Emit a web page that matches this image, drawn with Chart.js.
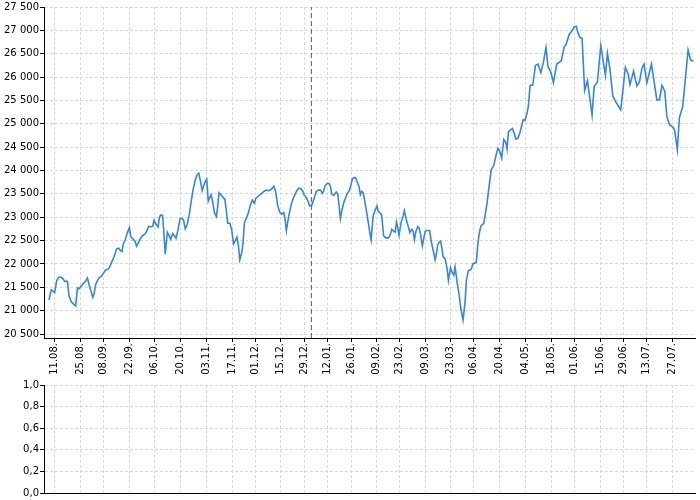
<!DOCTYPE html>
<html>
<head>
<meta charset="utf-8">
<script src="https://cdn.jsdelivr.net/npm/chart.js@4.4.1/dist/chart.umd.min.js"></script>
<style>
  html, body { margin: 0; padding: 0; background: #fff; }
  #wrap { position: relative; width: 700px; height: 500px; }
  canvas { position: absolute; left: 0; }
  #priceChart { top: 0; }
  #lowerChart { top: 375px; }
</style>
</head>
<body>
<div id="wrap">
  <canvas id="priceChart" width="700" height="375"></canvas>
  <canvas id="lowerChart" width="700" height="125"></canvas>
</div>
<script>
// position of each close on the trading-day axis
const dayPos = [
  0.4, 1.3, 2.1, 2.6, 3.4, 4.2, 5.2, 6.0, 6.5, 7.6,
  8.2, 9.1, 10.2, 10.8, 11.5, 12.2, 12.8, 13.4, 14.1, 14.6,
  15.4, 15.9, 16.7, 17.5, 18.0, 18.6, 19.3, 20.1, 20.8, 21.6,
  22.5, 23.4, 24.0, 25.0, 25.8, 26.8, 27.6, 28.4, 28.9, 29.4,
  30.2, 31.0, 31.8, 32.3, 33.1, 33.9, 34.6, 35.4, 36.2, 37.0,
  37.8, 38.5, 39.3, 40.1, 40.9, 41.4, 42.2, 43.0, 43.5, 44.0,
  44.8, 45.8, 46.6, 47.4, 47.9, 48.7, 49.5, 50.0, 50.8, 51.6,
  52.3, 52.9, 53.6, 54.4, 55.2, 56.0, 56.8, 57.6, 58.3, 58.9,
  59.6, 60.2, 60.7, 61.5, 62.0,
  62.6, 63.2, 63.7, 64.2, 65.0, 65.8, 66.3, 66.8, 67.6, 68.4,
  69.1, 69.7, 70.2, 71.0, 71.7, 72.5, 73.3, 73.8, 74.4, 74.9,
  75.7, 76.2, 76.7, 77.5, 78.3, 79.0, 79.8, 80.6, 81.1, 81.9,
  82.7, 83.5, 84.3, 85.3, 86.1, 86.9, 87.6, 88.2, 88.9, 89.7,
  90.5, 91.3, 92.1, 92.6, 93.1, 93.6, 94.1, 94.9, 95.7, 96.5,
  97.3, 98.0, 98.8, 99.6, 100.1, 100.9, 101.7, 102.2, 103.0, 103.8,
  104.8, 105.6, 106.4, 107.2, 107.7, 108.2, 109.0, 109.8, 110.3, 110.8,
  111.6, 112.6, 113.2, 113.7, 114.2, 114.7, 115.5, 116.3, 117.1, 117.8,
  118.4, 118.9, 119.7, 120.2, 120.7, 121.5, 122.0, 122.5, 123.1, 123.6,
  124.4, 125.1, 125.9,
  126.2, 127.0, 127.7, 128.5, 129.0, 129.8, 130.3, 131.1, 131.9, 132.9,
  133.5, 134.3, 135.0, 135.6, 136.1, 136.6, 137.1, 137.9, 138.7, 139.2,
  140.0, 140.8, 141.3, 142.1, 142.6, 143.1, 143.6, 144.4, 144.9, 145.5,
  146.2, 146.8, 147.3, 148.1, 149.1, 149.6, 150.4, 151.2, 151.7, 152.2,
  152.7, 153.3, 153.8, 154.3, 155.1, 155.9, 156.4, 157.2, 157.7, 158.5,
  159.0, 159.8, 160.6, 161.3, 162.1, 162.9, 163.4, 164.2, 165.2, 166.0,
  167.3, 167.8, 168.4, 169.1, 170.2, 170.7, 171.5, 172.3, 173.1, 174.1,
  174.9, 175.7, 176.4, 177.2, 178.0, 178.8, 179.3, 179.8, 180.6, 181.4,
  182.2, 182.7, 183.5, 184.3, 184.8, 185.6, 186.3, 187.1, 187.6,
  188.3, 189.3, 190.4, 191.4, 192.5, 193.5, 194.5, 195.3, 196.4, 197.4,
  198.7, 200.5, 201.6, 202.3, 203.6, 204.7, 205.5, 206.3, 207.0, 207.8,
  208.6, 209.6, 210.7, 212.5, 213.3, 214.6, 215.9, 217.7, 218.5, 219.5,
  220.6, 221.9, 223.7, 225.5, 226.6, 227.3, 228.7, 230.0, 231.0, 232.0,
  232.8, 233.9, 235.7, 237.8, 238.8, 239.8, 240.9, 241.7, 242.7, 244.3,
  244.8, 245.8, 246.6, 247.9, 250.0, 251.0, 252.1
];

const closes = [
  21231, 21444, 21415, 21387, 21643, 21714, 21714, 21671, 21628, 21628,
  21316, 21188, 21131, 21103, 21486, 21472, 21515, 21557, 21600, 21628,
  21699, 21586, 21430, 21287, 21358, 21557, 21643, 21714, 21728, 21799,
  21870, 21884, 21926, 22054, 22154, 22324, 22338, 22281, 22267, 22423,
  22523, 22665, 22778, 22594, 22537, 22495, 22381, 22466, 22551, 22608,
  22637, 22693, 22807, 22793, 22807, 22935, 22850, 22793, 22992, 23048,
  23034, 22211, 22679, 22594, 22523, 22651, 22594, 22551, 22736, 22977,
  22977, 22949, 22750, 22850, 23062, 23361, 23630, 23815, 23915, 23943,
  23758, 23574, 23659, 23773, 23815,
  23347, 23425, 23481, 23368, 23098, 23013, 23240, 23524, 23481, 23425,
  23382, 23112, 22871, 22871, 22743, 22431, 22516, 22573, 22388, 22090,
  22246, 22459, 22885, 22984, 23098, 23254, 23368, 23297, 23396, 23439,
  23481, 23510, 23552, 23581, 23567, 23581, 23623, 23666, 23552, 23254,
  23112, 23070, 23098, 22956, 22715, 22885, 23041, 23254, 23396, 23496,
  23581, 23623, 23609, 23552, 23467, 23425, 23325, 23240, 23254, 23382,
  23552, 23581, 23581, 23510, 23567, 23666, 23723, 23723, 23666, 23496,
  23467, 23538, 23496, 23240, 22970, 23126, 23311, 23425, 23524, 23581,
  23709, 23822, 23851, 23836, 23765, 23652, 23481, 23552, 23524, 23382,
  23126, 22885, 22601,
  22516, 23027, 23141, 23240, 23126, 23084, 23055, 22601, 22558, 22558,
  22601, 22743, 22700, 22686, 22899, 22771, 22615, 22885, 23027, 23141,
  22928, 22786, 22672, 22743, 22700, 22516, 22672, 22800, 22771, 22644,
  22388, 22558, 22700, 22715, 22715, 22502, 22303, 22090, 22218, 22402,
  22459, 22487, 22360, 22161, 22104, 21891, 21650, 21919, 21834, 21763,
  21934, 21607, 21323, 21025, 20798, 21181, 21650, 21863, 21877, 22005,
  22033, 22388, 22644, 22814, 22871, 23027, 23311, 23666, 24021, 24106,
  24305, 24475, 24419, 24262, 24660, 24603, 24461, 24816, 24873, 24901,
  24774, 24674, 24688, 24802, 24916, 25086, 25072, 25228, 25370,
  25824, 25824, 26250, 26279, 26094, 26321, 26634, 26222, 26108, 25881,
  26279, 26350, 26648, 26691, 26918, 26989, 27074, 27088, 26946, 26847,
  26833, 25711, 25924, 25185, 25796, 25895, 26676, 26037, 26506, 26165,
  25597, 25455, 25299, 26208, 26066, 25839, 26123, 25810, 25895, 26194,
  26279, 25881, 26279, 25512, 25512, 25824, 25697, 25157, 24987, 24916,
  24845, 24447, 25129, 25370, 26577, 26364, 26336
];

const tickDays = [2.5, 12.6, 21.8, 31.9, 41.5, 51.7, 61.8, 72.1, 81.0, 90.9, 100.3, 109.1, 118.4,
  128.4, 137.2, 147.4, 157.3, 166.1, 176.3, 186.5, 196.6, 205.7, 215.9, 224.7, 233.9, 244.0];
const tickLabels = ['11.08.', '25.08.', '08.09.', '22.09.', '06.10.', '20.10.', '03.11.', '17.11.', '01.12.',
  '15.12.', '29.12.', '12.01.', '26.01.', '09.02.', '23.02.', '09.03.', '23.03.', '06.04.', '20.04.',
  '04.05.', '18.05.', '01.06.', '15.06.', '29.06.', '13.07.', '27.07.'];
const priceTicks = [20500, 21000, 21500, 22000, 22500, 23000, 23500, 24000, 24500, 25000, 25500, 26000, 26500, 27000, 27500];
const lowerTicks = [0, 0.2, 0.4, 0.6, 0.8, 1];
const yearStartDay = 102.85;

const X_MIN = -1.56, X_MAX = 252.7;
const PRICE_MIN = 20415, PRICE_MAX = 27500;
const GRID = '#dadada';

Chart.defaults.font.family = "'DejaVu Sans', sans-serif";
Chart.defaults.font.size = 10;
Chart.defaults.color = '#000';

function spaced(v) {
  return String(v).replace(/\B(?=(\d{3})+(?!\d))/g, ' ');
}

function xAxis(withLabels) {
  return {
    type: 'linear',
    min: X_MIN,
    max: X_MAX,
    afterBuildTicks: s => { s.ticks = tickDays.map(v => ({ value: v })); },
    afterFit: s => { s.height = withLabels ? 37 : 6; },
    grid: { color: GRID, drawTicks: withLabels, tickLength: 4, tickColor: '#000' },
    border: { color: '#000', width: 1, dash: [3, 2] },
    ticks: {
      display: withLabels,
      autoSkip: false,
      maxRotation: 90,
      minRotation: 90,
      padding: 1,
      callback: (v, i) => tickLabels[i]
    }
  };
}

new Chart(document.getElementById('priceChart'), {
  type: 'line',
  data: {
    datasets: [
      {
        data: dayPos.map((d, i) => ({ x: d, y: closes[i] })),
        borderColor: '#3786db',
        borderWidth: 1.6,
        pointRadius: 0,
        tension: 0,
        order: 1
      },
      {
        data: [{ x: yearStartDay, y: PRICE_MIN }, { x: yearStartDay, y: PRICE_MAX }],
        borderColor: '#555',
        borderWidth: 1,
        borderDash: [5, 3],
        pointRadius: 0,
        order: 2
      }
    ]
  },
  options: {
    responsive: false,
    animation: false,
    devicePixelRatio: 1,
    layout: { padding: { top: 5, right: 5, left: 0, bottom: 0 } },
    plugins: { legend: { display: false }, tooltip: { enabled: false } },
    scales: {
      x: xAxis(true),
      y: {
        min: PRICE_MIN,
        max: PRICE_MAX,
        afterBuildTicks: s => { s.ticks = priceTicks.map(v => ({ value: v })); },
        afterFit: s => { s.width = 44; },
        grid: { color: GRID, tickLength: 4, tickColor: '#000' },
        border: { color: '#000', width: 1, dash: [3, 2] },
        ticks: { padding: 1, callback: v => spaced(v) }
      }
    }
  }
});

new Chart(document.getElementById('lowerChart'), {
  type: 'line',
  data: { datasets: [] },
  options: {
    responsive: false,
    animation: false,
    devicePixelRatio: 1,
    layout: { padding: { top: 10, right: 5, left: 0, bottom: 0 } },
    plugins: { legend: { display: false }, tooltip: { enabled: false } },
    scales: {
      x: xAxis(false),
      y: {
        min: 0,
        max: 1,
        afterBuildTicks: s => { s.ticks = lowerTicks.map(v => ({ value: v })); },
        afterFit: s => { s.width = 44; },
        grid: { color: GRID, tickLength: 4, tickColor: '#000' },
        border: { color: '#000', width: 1, dash: [3, 2] },
        ticks: { padding: 1, callback: v => v.toFixed(1).replace('.', ',') }
      }
    }
  }
});
</script>
</body>
</html>
